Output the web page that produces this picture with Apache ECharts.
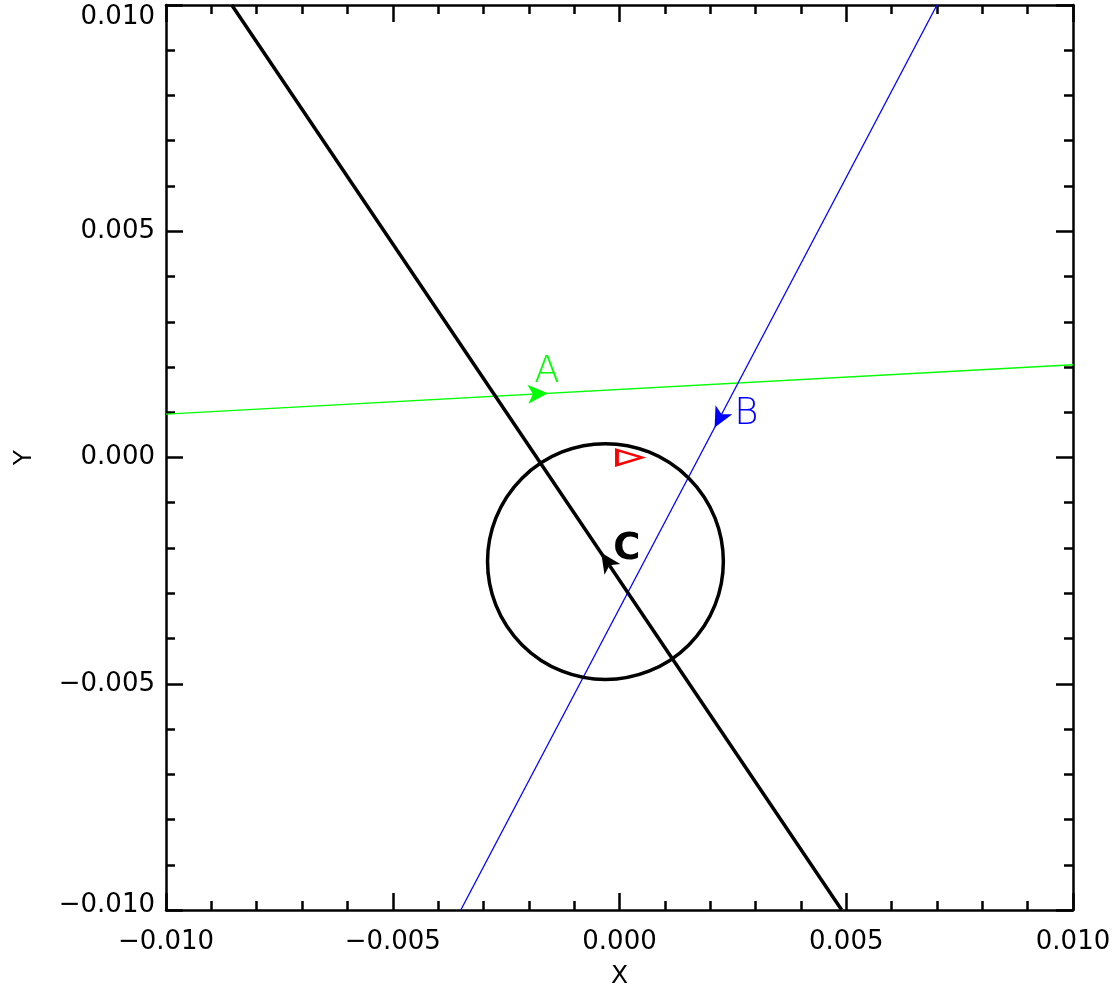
<!DOCTYPE html>
<html>
<head>
<meta charset="utf-8">
<script src="https://cdn.jsdelivr.net/npm/echarts@6/dist/echarts.min.js"></script>
<style>
html,body{margin:0;padding:0;background:#fff;overflow:hidden;}
#chart{width:1118px;height:994px;}
</style>
</head>
<body>
<div id="chart"></div>
<script>
// ---- data ----
const axisRange = [-0.01, 0.01];
const axisInterval = 0.005;
const lineA = [[-0.01, 0.00096], [0.01, 0.00205]];      // green, left -> right
const lineB = [[0.007, 0.01], [-0.0035, -0.01]];        // blue, top -> bottom
const lineC = [[0.0049, -0.01], [-0.00855, 0.01]];      // black, bottom -> top
const circleC = [-0.00031, -0.0023, 0.0026];            // centre x, centre y, radius
const arrowA = [-0.0018, 0.00141];
const arrowB = [0.0022, 0.00086];
const arrowC = [-0.00028, -0.00229];
const redMark = [0.00022, 0.0];
const markNames = ['A', 'B', 'C'];

function dirRot(line) {
  const dx = line[1][0] - line[0][0], dy = line[1][1] - line[0][1];
  return Math.atan2(dy, dx) * 180 / Math.PI - 90;
}
function fmt(v) {
  if (Math.abs(v) < 1e-12) return '0.000';
  return (v < 0 ? '\u2212' : '') + Math.abs(v).toFixed(3);
}
const FONT = 'DejaVu Sans';
const arrowPath = 'path://M10,0 L20,20 L10,15 L0,20 Z';

const chart = echarts.init(document.getElementById('chart'), null, {renderer: 'canvas', width: 1118, height: 994});

const axisCommon = {
  type: 'value', min: axisRange[0], max: axisRange[1], interval: axisInterval,
  axisLine: {show: true, onZero: false, lineStyle: {color: '#000', width: 2.5}},
  axisTick: {show: true, inside: true, length: 17, lineStyle: {color: '#000', width: 2.5}},
  minorTick: {show: true, splitNumber: 5, length: 9, lineStyle: {color: '#000', width: 2.5}},
  splitLine: {show: false}, minorSplitLine: {show: false}
};

function arrowSeries(pos, line, color, name, offset) {
  return {
    type: 'scatter', data: [pos], symbol: arrowPath, symbolSize: [19, 20],
    symbolRotate: dirRot(line), itemStyle: {color: color, opacity: 1}, z: 5, silent: true,
    label: {show: true, position: 'inside', offset: offset, formatter: name,
      fontFamily: FONT, fontSize: 37, fontWeight: name === 'C' ? 600 : 200, color: color,
      textBorderWidth: 0, textBorderColor: 'transparent', opacity: 1}
  };
}

const option = {
  animation: false,
  backgroundColor: '#fff',
  grid: {left: 166, top: 5, width: 907, height: 907, containLabel: false},
  xAxis: [
    Object.assign({}, axisCommon, {
      position: 'bottom', name: 'X', nameLocation: 'middle', nameGap: 54,
      nameTextStyle: {fontFamily: FONT, fontSize: 25, color: '#000'},
      axisLabel: {show: true, margin: 19, fontFamily: FONT, fontSize: 26, color: '#000',
        formatter: fmt, showMinLabel: true, showMaxLabel: true}
    }),
    Object.assign({}, axisCommon, {position: 'top', axisLabel: {show: false}})
  ],
  yAxis: [
    Object.assign({}, axisCommon, {
      position: 'left', name: 'Y', nameLocation: 'middle', nameGap: 129, nameRotate: 90,
      nameTextStyle: {fontFamily: FONT, fontSize: 25, color: '#000'},
      axisLabel: {show: true, margin: 11, fontFamily: FONT, fontSize: 26, color: '#000',
        showMinLabel: true, showMaxLabel: true,
        formatter: function (v) {
          const s = fmt(v);
          if (v >= axisRange[1] - 1e-9) return '{t|' + s + '}';
          if (v <= axisRange[0] + 1e-9) return '{b|' + s + '}';
          return s;
        },
        rich: {
          t: {fontFamily: FONT, fontSize: 26, color: '#000', padding: [24, 0, 0, 0]},
          b: {fontFamily: FONT, fontSize: 26, color: '#000', padding: [0, 0, 10, 0]}
        }
      }
    }),
    Object.assign({}, axisCommon, {position: 'right', axisLabel: {show: false}})
  ],
  series: [
    {type: 'line', data: lineA, symbol: 'none', lineStyle: {color: '#00ff00', width: 1.3}, silent: true, z: 2},
    {type: 'line', data: lineB, symbol: 'none', lineStyle: {color: '#0000ff', width: 1.3}, silent: true, z: 2},
    {type: 'line', data: lineC, symbol: 'none', lineStyle: {color: '#000000', width: 3.5}, silent: true, z: 3},
    {
      type: 'custom', data: [circleC], encode: {x: 0, y: 1}, silent: true, z: 3,
      renderItem: function (params, api) {
        const c = api.coord([api.value(0), api.value(1)]);
        const r = api.size([api.value(2), 0])[0];
        return {type: 'circle', shape: {cx: c[0], cy: c[1], r: r},
          style: {fill: 'none', stroke: '#000', lineWidth: 3.5}};
      }
    },
    {
      type: 'scatter', data: [redMark], symbol: 'path://M0,0 L25,7.5 L0,15 Z', symbolSize: [25, 15],
      itemStyle: {color: 'rgba(0,0,0,0)', borderColor: '#ff0000', borderWidth: 3, opacity: 1}, silent: true, z: 4
    },
    arrowSeries(arrowA, lineA, '#00ff00', markNames[0], [9, -21]),
    arrowSeries(arrowB, lineB, '#0000ff', markNames[1], [27, -4]),
    arrowSeries(arrowC, lineC, '#000000', markNames[2], [20, -12])
  ]
};
chart.setOption(option);
</script>
</body>
</html>
